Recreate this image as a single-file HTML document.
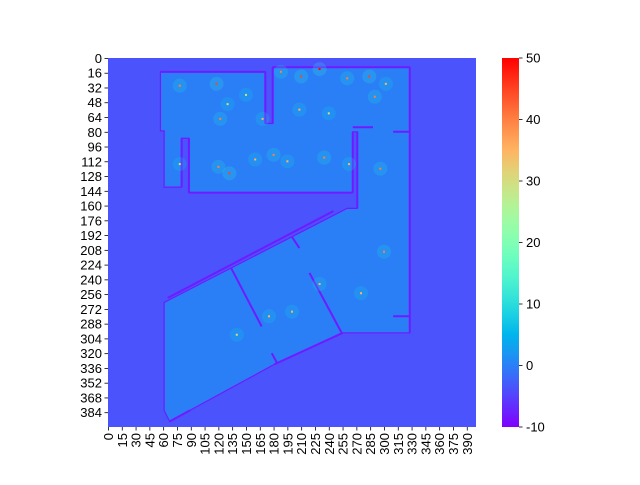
<!DOCTYPE html>
<html><head><meta charset="utf-8"><style>
body{margin:0;background:#fff;width:640px;height:480px;overflow:hidden}
text{font-family:"Liberation Sans",sans-serif;font-size:13px;fill:#000}
</style></head><body>
<svg id="chart" width="640" height="480" xmlns="http://www.w3.org/2000/svg">
<defs>
<linearGradient id="cg" x1="0" y1="1" x2="0" y2="0"></linearGradient>
</defs>
<g id="plot"></g>
<g id="axes"></g>
<g id="cbar"></g>
</svg>
<script>
// data (cell units, 400x400 grid)
const nCells = 400;
const vmin = -10, vmax = 50;
const backgroundValue = -3.7;
const floorValue = 0;
const wallValue = -8;
const floorOutline = [[57,15],[171,15],[171,71],[179,71],[179,10],[328,10],[328,298],[255,298],[181,332],[89,382],[67,394],[61,382],[61,265],[260,163],[271,163],[271,80],[266,80],[266,146],[88,146],[88,87],[80,87],[80,140],[61,140],[61,79],[57,79]];
const wallSegments = [[[57,15],[171,15]],[[179,10],[328,10]],[[328,10],[328,298]],[[80,87],[80,140]],[[88,87],[88,146]],[[88,146],[266,146]],[[266,80],[266,146]],[[271,80],[271,163]],[[266,75],[288,75]],[[310,80],[328,80]],[[310,280],[328,280]],[[65,260],[245,166]],[[181,332],[255,298]],[[89,382],[67,394]],[[134,228],[167,291]],[[219,233],[254,298]],[[200,194],[208,206]],[[178,320],[184,331]],[[171,15],[171,71]],[[179,10],[179,71]]];
const hotX = [78,118,130,150,188,210,230,260,284,302,290,240,208,168,122,78,120,132,160,180,195,235,262,296,140,200,300,275,175,230];
const hotY = [30,28,50,40,15,20,12,22,20,28,42,60,56,66,66,115,118,125,110,105,112,108,115,120,300,275,210,255,280,245];
const hotV = [8,9,6,6,8,9,10,8,9,7,8,6,7,7,8,6,8,9,7,8,7,8,7,8,6,7,8,7,7,7];
const yTickLabels = [0,16,32,48,64,80,96,112,128,144,160,176,192,208,224,240,256,272,288,304,320,336,352,368,384];
const xTickLabels = [0,15,30,45,60,75,90,105,120,135,150,165,180,195,210,225,240,255,270,285,300,315,330,345,360,375,390];
const cbarTicks = [-10,0,10,20,30,40,50];

const L=108,T=58,W=368,H=369;
const sx=c=>L+c*W/nCells, sy=c=>T+c*H/nCells;
function cmap(v){const x=Math.max(0,Math.min(1,(v-vmin)/(vmax-vmin)));
 const r=Math.abs(2*x-0.5),g=Math.sin(Math.PI*x),b=Math.cos(Math.PI*x/2);
 return `rgb(${Math.round(Math.min(1,r)*255)},${Math.round(g*255)},${Math.round(b*255)})`;}
const NS='http://www.w3.org/2000/svg';
function mk(tag,attrs,parent){const e=document.createElementNS(NS,tag);for(const k in attrs)e.setAttribute(k,attrs[k]);parent.appendChild(e);return e;}
const plot=document.getElementById('plot'),axes=document.getElementById('axes'),cb=document.getElementById('cbar');
let bg=mk('rect',{x:L,y:T,width:W,height:H,fill:cmap(backgroundValue)},plot);


let fl=mk('polygon',{points:floorOutline.map(p=>sx(p[0])+','+sy(p[1])).join(' '),fill:cmap(floorValue),stroke:cmap(wallValue),'stroke-width':1.2},plot);


wallSegments.forEach(s=>{const w=mk('line',{x1:sx(s[0][0]),y1:sy(s[0][1]),x2:sx(s[1][0]),y2:sy(s[1][1]),stroke:cmap(wallValue),'stroke-width':2},plot);
 
 });
hotX.forEach((hx,i)=>{const c=mk('circle',{cx:sx(hx),cy:sy(hotY[i]),r:7,fill:cmap(hotV[i]),opacity:0.25},plot);
 
 
 const d=mk('rect',{x:sx(hx)-1,y:sy(hotY[i])-1,width:2,height:2,fill:cmap(hotV[i]*5)},plot);
 
 });
yTickLabels.forEach(v=>{const y=sy(v+0.5);
 mk('line',{x1:L-3.5,x2:L,y1:y,y2:y,stroke:'#000','stroke-width':0.8},axes);
 const t=mk('text',{x:L-6,y:y+4.5,'text-anchor':'end'},axes);t.textContent=v;
 
 });
xTickLabels.forEach(v=>{const x=sx(v+0.5);
 mk('line',{x1:x,x2:x,y1:T+H,y2:T+H+3.5,stroke:'#000','stroke-width':0.8},axes);
 const t=mk('text',{x:0,y:0,'text-anchor':'end',transform:`translate(${x+4.5},${T+H+6}) rotate(-90)`},axes);t.textContent=v;
 
 });
const g=document.getElementById('cg');
for(let i=0;i<=20;i++){mk('stop',{offset:(i/20),'stop-color':cmap(vmin+(vmax-vmin)*i/20)},g);}
const CX=502,CW=17;
const cy=v=>T+H-(v-vmin)/(vmax-vmin)*H;
let cr=mk('rect',{x:CX,y:T,width:CW,height:H,fill:'url(#cg)'},cb);


cbarTicks.forEach(v=>{const y=cy(v);
 mk('line',{x1:CX+CW,x2:CX+CW+3.5,y1:y,y2:y,stroke:'#000','stroke-width':0.8},cb);
 const t=mk('text',{x:CX+CW+7,y:y+4.5},cb);t.textContent=v;
 
 });
</script>
</body></html>
